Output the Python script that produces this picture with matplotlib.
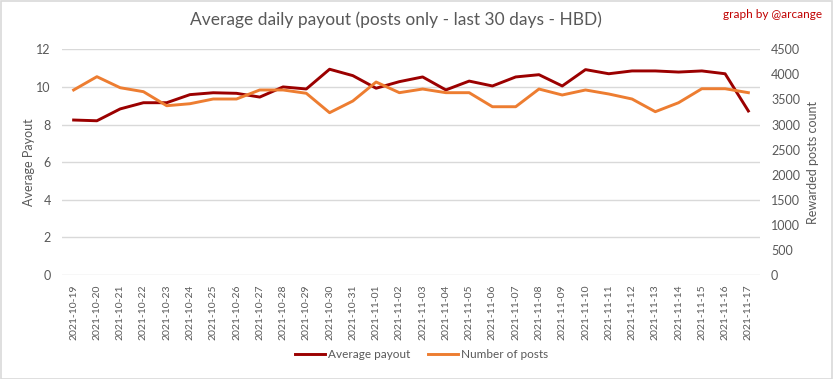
import matplotlib.pyplot as plt
from matplotlib.patches import Rectangle

plt.rcParams['font.family'] = ['Lato', 'DejaVu Sans']

dates = ["2021-10-19", "2021-10-20", "2021-10-21", "2021-10-22", "2021-10-23",
         "2021-10-24", "2021-10-25", "2021-10-26", "2021-10-27", "2021-10-28",
         "2021-10-29", "2021-10-30", "2021-10-31", "2021-11-01", "2021-11-02",
         "2021-11-03", "2021-11-04", "2021-11-05", "2021-11-06", "2021-11-07",
         "2021-11-08", "2021-11-09", "2021-11-10", "2021-11-11", "2021-11-12",
         "2021-11-13", "2021-11-14", "2021-11-15", "2021-11-16", "2021-11-17"]
avg_payout = [8.24, 8.20, 8.83, 9.16, 9.16, 9.59, 9.69, 9.66, 9.46, 10.00,
              9.89, 10.94, 10.60, 9.93, 10.28, 10.53, 9.84, 10.31, 10.05, 10.53,
              10.65, 10.05, 10.92, 10.70, 10.85, 10.85, 10.79, 10.85, 10.70, 8.72]
num_posts = [3689, 3954, 3734, 3655, 3375, 3415, 3509, 3509, 3689, 3689,
             3623, 3236, 3469, 3848, 3635, 3708, 3635, 3635, 3355, 3355,
             3708, 3589, 3689, 3609, 3509, 3256, 3435, 3714, 3714, 3635]

dark_red = "#9B0000"
orange = "#ED7D31"
grey = "#595959"

fig = plt.figure(figsize=(8.33, 3.79), dpi=100)
fig.patches.append(Rectangle((0.001, 0.001), 0.998, 0.997, transform=fig.transFigure,
                             fill=False, edgecolor="#D9D9D9", linewidth=1.2))
ax = fig.add_axes([62 / 833, 1 - 275 / 379, (760 - 62) / 833, (275 - 49.3) / 379])
ax2 = ax.twinx()

x = list(range(len(dates)))
l1, = ax.plot(x, avg_payout, color=dark_red, lw=2.1, zorder=3)
l2, = ax2.plot(x, num_posts, color=orange, lw=2.1, zorder=3)

ax.set_xlim(-0.5, len(dates) - 0.5)
ax.set_ylim(0, 12)
ax.set_yticks(range(0, 13, 2))
ax2.set_ylim(0, 4500)
ax2.set_yticks(range(0, 4501, 500))
ax.set_xticks(x)
ax.set_xticklabels(dates, rotation=90)

ax.grid(axis="y", color="#D9D9D9", lw=1)
ax.set_axisbelow(True)
for a in (ax, ax2):
    for s in a.spines.values():
        s.set_visible(False)
    a.tick_params(length=0, colors=grey, labelsize=9)
ax.tick_params(axis="y", pad=8)
ax2.tick_params(axis="y", pad=8)
ax.tick_params(axis="x", pad=7, labelsize=7.5)

ax.set_ylabel("Average Payout", color=grey, fontsize=9, labelpad=1)
ax2.set_ylabel("Rewarded posts count", color=grey, fontsize=9, labelpad=5)

fig.text(396 / 833, 1 - 20 / 379, "Average daily payout (posts only - last 30 days - HBD)",
         ha="center", va="center", fontsize=12.5, color=grey)
fig.text(822 / 833, 1 - 15 / 379, "graph by @arcange", ha="right", va="center",
         fontsize=8.5, color="#C00000")

fig.legend([l1, l2], ["Average payout", "Number of posts"], loc="center",
           bbox_to_anchor=(422 / 833, 1 - 355 / 379), ncol=2, frameon=False,
           fontsize=8.5, labelcolor=grey, handlelength=2.5, columnspacing=1.5,
           handletextpad=0.3)

fig.savefig("out.png", dpi=100)
